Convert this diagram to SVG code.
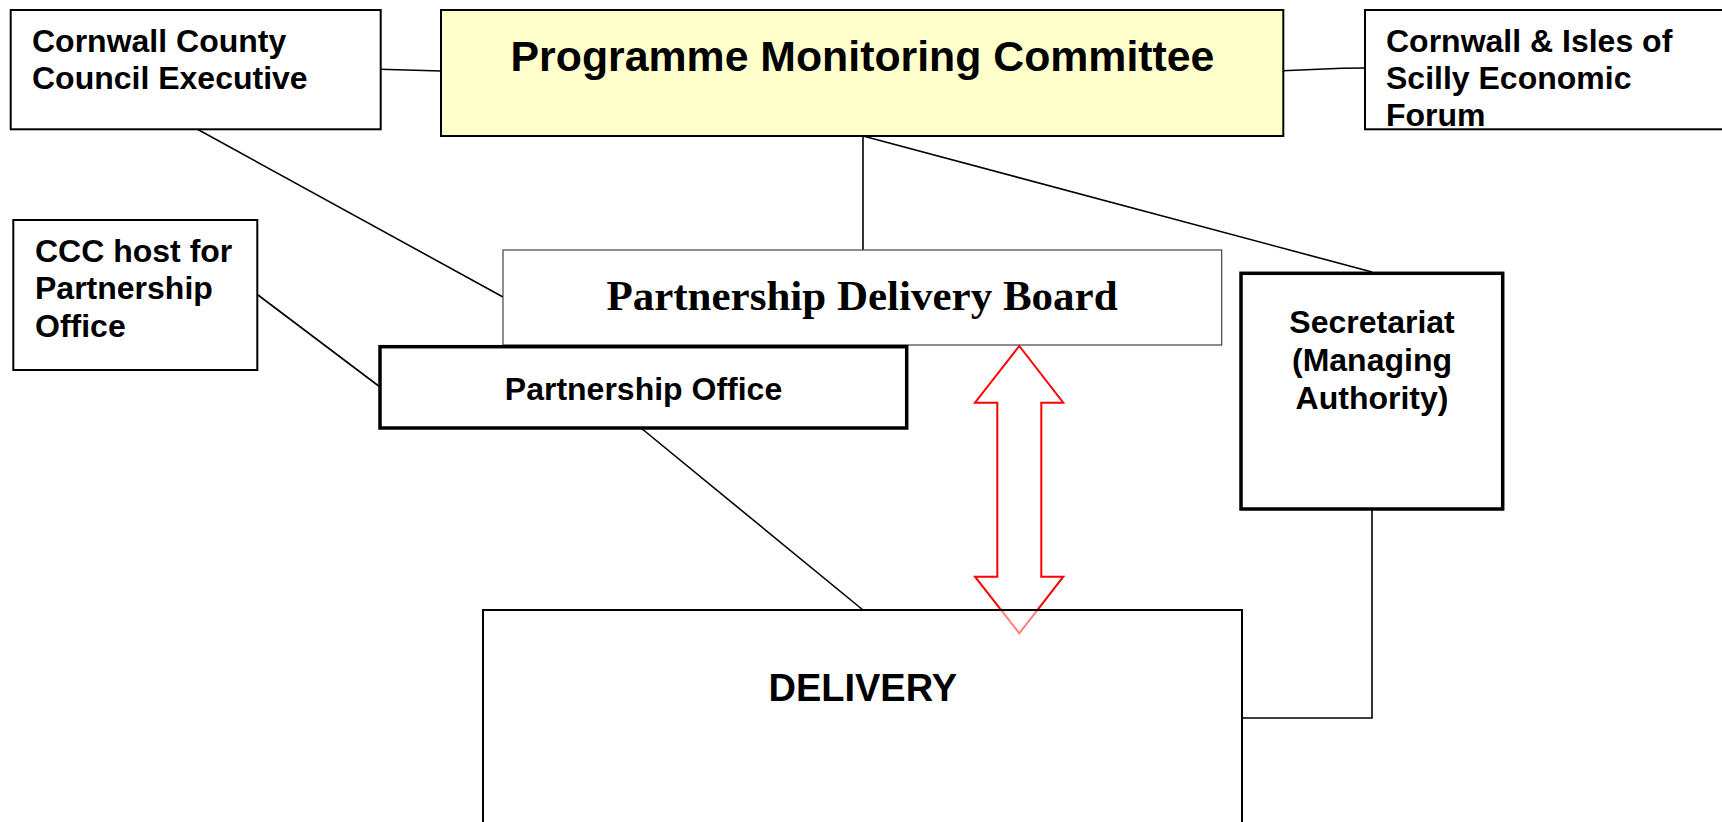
<svg xmlns="http://www.w3.org/2000/svg" width="1722" height="822" viewBox="0 0 1722 822">
<style>
.box{fill:#ffffff;stroke:#000000;stroke-width:2}
.thick{fill:#ffffff;stroke:#000000;stroke-width:3.5}
.thin{fill:#ffffff;stroke:#444444;stroke-width:1.2}
.pmc{fill:#ffffcc;stroke:#000000;stroke-width:2}
.lbl{font-family:"Liberation Sans",Arial,sans-serif;font-weight:bold;font-size:32px;fill:#000000}
.mid{text-anchor:middle}
.conn line,.conn polyline{stroke:#000000;stroke-width:1.6;fill:none}
</style>
<rect width="1722" height="822" fill="#ffffff"/>
<g id="connectors" class="conn">
  <line x1="380" y1="69.3" x2="441" y2="71"/>
  <polyline points="1283,70.7 1342,68.3 1365,68"/>
  <line x1="863" y1="136" x2="863" y2="250"/>
  <line x1="863" y1="136" x2="1372" y2="272"/>
  <line x1="197" y1="129" x2="503" y2="297"/>
  <line x1="258" y1="295" x2="380" y2="387"/>
  <line x1="641" y1="428" x2="863" y2="610"/>
  <polyline points="1372,509 1372,718 1242,718"/>
  <polygon id="double-arrow" points="1019.3,346 1063.3,402.7 1041.3,402.7 1041.3,576.7 1063.3,576.7 1019.3,633.3 975,576.7 997.3,576.7 997.3,402.7 975,402.7" fill="none" stroke="#ff0000" stroke-width="2"/>
</g>
<g id="cce">
  <rect class="box" x="10.7" y="10" width="370" height="119.3"/>
  <text class="lbl" x="32" y="52.3">Cornwall County</text>
  <text class="lbl" x="32" y="89.3">Council Executive</text>
</g>
<g id="pmc">
  <rect class="pmc" x="441" y="10" width="842.3" height="126"/>
  <text class="lbl mid" x="862.5" y="71" style="font-size:42.8px">Programme Monitoring Committee</text>
</g>
<g id="cisef">
  <rect class="box" x="1365" y="10" width="370" height="119.3"/>
  <text class="lbl" x="1386" y="52.3">Cornwall &amp; Isles of</text>
  <text class="lbl" x="1386" y="89.3">Scilly Economic</text>
  <text class="lbl" x="1386" y="126">Forum</text>
</g>
<g id="ccc-host">
  <rect class="box" x="13.3" y="220" width="244" height="150"/>
  <text class="lbl" x="35" y="261.7">CCC host for</text>
  <text class="lbl" x="35" y="299">Partnership</text>
  <text class="lbl" x="35" y="336.5">Office</text>
</g>
<g id="pdb">
  <rect class="thin" x="503" y="250" width="718.7" height="95"/>
  <text class="mid" x="862" y="310" style="font-family:'Liberation Serif','Times New Roman',serif;font-weight:bold;font-size:43px">Partnership Delivery Board</text>
</g>
<g id="partnership-office">
  <rect class="thick" x="380" y="346.7" width="526.7" height="81.3"/>
  <text class="lbl mid" x="643.5" y="400">Partnership Office</text>
</g>
<g id="secretariat">
  <rect class="thick" x="1241" y="273.3" width="261.7" height="235.7"/>
  <text class="lbl mid" x="1372" y="333">Secretariat</text>
  <text class="lbl mid" x="1372" y="371">(Managing</text>
  <text class="lbl mid" x="1372" y="409">Authority)</text>
</g>
<g id="delivery">
  <rect x="483" y="610" width="759" height="230" fill="#ffffff" fill-opacity="0.5" stroke="#000000" stroke-width="2"/>
  <text class="lbl mid" x="862.8" y="701" style="font-size:38px">DELIVERY</text>
</g>
</svg>
